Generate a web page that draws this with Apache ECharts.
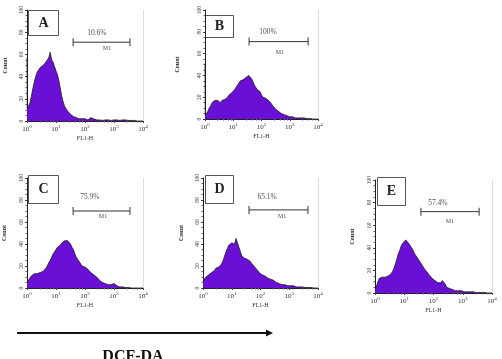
<!DOCTYPE html>
<html>
<head>
<meta charset="utf-8">
<script src="https://cdn.jsdelivr.net/npm/echarts@6/dist/echarts.min.js"></script>
<style>
  html, body { margin: 0; padding: 0; background: #fff; }
  #chart { width: 502px; height: 359px; }
</style>
</head>
<body>
<div id="chart"></div>
<script>
// FL1-H channel positions, in decades (log10 of intensity)
const channels = [0, 0.01, 0.05, 0.1, 0.15, 0.2, 0.25, 0.3, 0.35, 0.4, 0.45, 0.5, 0.55, 0.6, 0.65, 0.7, 0.75, 0.8, 0.85, 0.9, 0.95,
  1, 1.05, 1.1, 1.15, 1.2, 1.25, 1.3, 1.35, 1.4, 1.45, 1.5, 1.55, 1.6, 1.65, 1.7, 1.75, 1.8, 1.85, 1.9, 1.95,
  2, 2.05, 2.1, 2.15, 2.2, 2.25, 2.3, 2.35, 2.4, 2.45, 2.5, 2.55, 2.6, 2.65, 2.7, 2.75, 2.8, 2.85, 2.9, 2.95,
  3, 3.05, 3.1, 3.15, 3.2, 3.25, 3.3, 3.35, 3.4, 3.45, 3.5, 3.55, 3.6, 3.65, 3.7, 3.75, 3.8, 3.85, 3.9, 3.95, 4];

// counts per channel, one array per panel
const countA = [57, 11, 12, 16, 22, 29, 35, 40, 44, 46, 48, 47, 50, 51, 53, 52, 57, 62, 55, 53, 49,
  45, 42, 36, 29, 22, 17, 13, 11, 9, 8, 6, 5, 4, 4, 3, 3, 2, 2, 2, 1,
  2, 1, 1, 2, 3, 3, 2, 1, 1, 1, 1, 1, 0.5, 1, 1, 0.5, 1, 1, 0.5, 1,
  1, 0.5, 1, 1, 0.5, 1, 1, 0.5, 1, 1, 0.5, 0.5, 0.5, 0.5, 0.5, 0, 0, 0, 0, 0, 0];
const countB = [51, 3, 4, 7, 10, 12, 15, 16, 17, 16, 17, 16, 15, 17, 17, 18, 19, 20, 22, 23, 24,
  25, 27, 29, 31, 33, 35, 34, 36, 37, 38, 38, 40, 41, 37, 34, 31, 29, 27, 26, 25,
  22, 20, 20, 19, 18, 17, 16, 14, 12, 11, 9, 8, 7, 6, 5, 4, 4, 3, 3, 3,
  2, 2, 2, 2, 1, 1, 1, 1, 1, 1, 1, 0.5, 0.5, 0.5, 0.5, 0, 0, 0, 0, 0, 0];
const countC = [5, 6, 7, 9, 11, 12, 13, 14, 13, 14, 14, 13, 15, 16, 18, 20, 23, 25, 28, 31, 33,
  35, 37, 38, 39, 41, 42, 43, 44, 43, 42, 40, 37, 35, 31, 28, 26, 24, 22, 20, 19,
  19, 18, 17, 16, 14, 13, 12, 11, 10, 9, 7, 6, 5, 5, 4, 4, 3, 3, 3, 4,
  4, 3, 2, 2, 1, 1, 1, 0.5, 0.5, 0.5, 0.5, 0.5, 0, 0, 0, 0, 0, 0, 0, 0, 0];
const countD = [6, 7, 8, 10, 11, 12, 13, 14, 15, 16, 18, 18, 19, 20, 22, 25, 29, 33, 36, 39, 40,
  41, 42, 40, 45, 41, 37, 33, 29, 28, 27, 27, 26, 25, 24, 22, 21, 19, 18, 16, 14,
  13, 12, 12, 11, 10, 9, 9, 8, 7, 7, 6, 5, 5, 4, 4, 3, 3, 3, 3, 2,
  2, 2, 2, 2, 1, 1, 1, 1, 1, 1, 1, 0.5, 0.5, 0.5, 0.5, 0.5, 0, 0, 0, 0, 0];
const countE = [3, 4, 6, 10, 13, 14, 14, 13, 14, 15, 15, 16, 17, 19, 22, 26, 30, 35, 38, 42, 44,
  45, 47, 46, 44, 42, 40, 38, 35, 33, 31, 29, 28, 25, 23, 21, 20, 18, 16, 15, 13,
  12, 11, 10, 9, 9, 9, 11, 12, 8, 5, 4, 4, 3, 3, 3, 2, 2, 2, 2, 2,
  2, 1, 1, 1, 1, 1, 1, 1, 1, 0.5, 0.5, 0.5, 0.5, 0.5, 0.5, 0.5, 0, 0, 0, 0, 0];
const counts = [countA, countB, countC, countD, countE];

const panelNames = ['A', 'B', 'C', 'D', 'E'];
const gatePct = ['10.6%', '100%', '75.9%', '65.1%', '57.4%'];
const gateLo = [1.59, 1.56, 1.59, 1.6, 1.57];   // decades
const gateHi = [3.55, 3.65, 3.55, 3.65, 3.56];
const gateLevel = [71, 71, 70, 71, 72];
const pctAt = [[2.41, 79], [2.23, 80], [2.17, 83], [2.23, 83], [2.15, 80]];
const m1At = [[2.76, 65], [2.65, 61], [2.62, 65], [2.75, 65], [2.56, 63]];

// layout
const grids = [
  { left: 27, top: 10, width: 116, height: 111 },
  { left: 205, top: 10, width: 113, height: 109 },
  { left: 27, top: 178, width: 116, height: 110 },
  { left: 203, top: 178, width: 115, height: 110 },
  { left: 375, top: 180, width: 117, height: 113 }
];
const countGap = [19, 25, 20, 19, 20];
const boxes = [[28, 10, 30, 25], [205, 15, 28, 22], [28, 175, 30, 28], [205, 175, 28, 28], [377, 177, 28, 28]];

const serif = 'Liberation Serif';
const purple = '#6a0fd6';

const xAxes = grids.map((g, i) => ({
  type: 'log', logBase: 10, min: 1, max: 10000, gridIndex: i,
  axisLine: { lineStyle: { color: '#222', width: 1 } },
  axisTick: { length: 2, lineStyle: { color: '#444' } },
  minorTick: { show: true, length: 1.5, splitNumber: 5, lineStyle: { color: '#666' } },
  splitLine: { show: false },
  axisLabel: {
    margin: 3, color: '#333', fontFamily: serif,
    formatter: v => '{b|10}{s|' + Math.round(Math.log10(v)) + '}',
    rich: {
      b: { fontSize: 7, fontFamily: serif, color: '#333' },
      s: { fontSize: 5, fontFamily: serif, color: '#333', verticalAlign: 'top', padding: [0, 0, 5, 0] }
    }
  },
  name: 'FL1-H', nameLocation: 'middle', nameGap: 14,
  nameTextStyle: { fontSize: 6, fontFamily: serif, color: '#333' }
}));

const yAxes = [];
grids.forEach((g, i) => {
  yAxes.push({
    type: 'value', min: 0, max: 100, interval: 20, gridIndex: i,
    axisLine: { show: true, lineStyle: { color: '#222', width: 1 } },
    axisTick: { show: true, length: 2, lineStyle: { color: '#444' } },
    minorTick: { show: true, splitNumber: 4, length: 1.5, lineStyle: { color: '#666' } },
    splitLine: { show: false },
    axisLabel: { rotate: 90, fontSize: 5.5, margin: 2, color: '#444', fontFamily: serif },
    name: 'Count', nameLocation: 'middle', nameGap: countGap[i],
    nameTextStyle: { fontSize: 6, fontWeight: 'bold', fontFamily: serif, color: '#333' }
  });
  yAxes.push({
    type: 'value', min: 0, max: 100, gridIndex: i, position: 'right',
    axisLine: { show: true, lineStyle: { color: '#ddd', width: 1 } },
    axisTick: { show: false }, axisLabel: { show: false }, splitLine: { show: false }
  });
});

const series = [];
grids.forEach((g, i) => {
  series.push({
    type: 'line', xAxisIndex: i, yAxisIndex: i * 2,
    data: channels.map((c, k) => [Math.pow(10, c), counts[i][k]]),
    showSymbol: false,
    lineStyle: { color: '#1a1a1a', width: 0.8 },
    areaStyle: { color: purple, opacity: 1 },
    z: 2
  });
  series.push({
    type: 'line', xAxisIndex: i, yAxisIndex: i * 2,
    data: [[Math.pow(10, gateLo[i]), gateLevel[i]], [Math.pow(10, gateHi[i]), gateLevel[i]]],
    symbol: 'rect', symbolSize: [1, 8], showSymbol: true,
    itemStyle: { color: '#333' },
    lineStyle: { color: '#333', width: 1 },
    z: 3
  });
  series.push({
    type: 'scatter', xAxisIndex: i, yAxisIndex: i * 2, symbolSize: 0,
    data: [
      { value: [Math.pow(10, pctAt[i][0]), pctAt[i][1]], name: gatePct[i], label: { fontSize: 7.5 } },
      { value: [Math.pow(10, m1At[i][0]), m1At[i][1]], name: 'M1', label: { fontSize: 6 } }
    ],
    label: { show: true, position: 'inside', formatter: p => p.name, color: '#222', fontFamily: serif },
    z: 4
  });
});

const graphic = boxes.map((b, i) => ({
  type: 'group', left: b[0], top: b[1], z: 10,
  children: [
    { type: 'rect', shape: { x: 0, y: 0, width: b[2], height: b[3] }, style: { fill: '#fff', stroke: '#555', lineWidth: 1 } },
    { type: 'text', x: b[2] / 2, y: b[3] / 2, style: { text: panelNames[i], fill: '#222', font: 'bold 14px "Liberation Serif"', textAlign: 'center', textVerticalAlign: 'middle' } }
  ]
}));
graphic.push({ type: 'line', shape: { x1: 17, y1: 333, x2: 268, y2: 333 }, style: { stroke: '#111', lineWidth: 2 } });
graphic.push({ type: 'polygon', shape: { points: [[266, 329.5], [273, 333], [266, 336.5]] }, style: { fill: '#111' } });
graphic.push({ type: 'text', x: 133, y: 349, style: { text: 'DCF-DA', fill: '#111', font: 'bold 16px "Liberation Serif"', textAlign: 'center', textVerticalAlign: 'top' } });

const chart = echarts.init(document.getElementById('chart'));
chart.setOption({
  animation: false,
  backgroundColor: '#fff',
  grid: grids,
  xAxis: xAxes,
  yAxis: yAxes,
  series: series,
  graphic: graphic
});
</script>
</body>
</html>
